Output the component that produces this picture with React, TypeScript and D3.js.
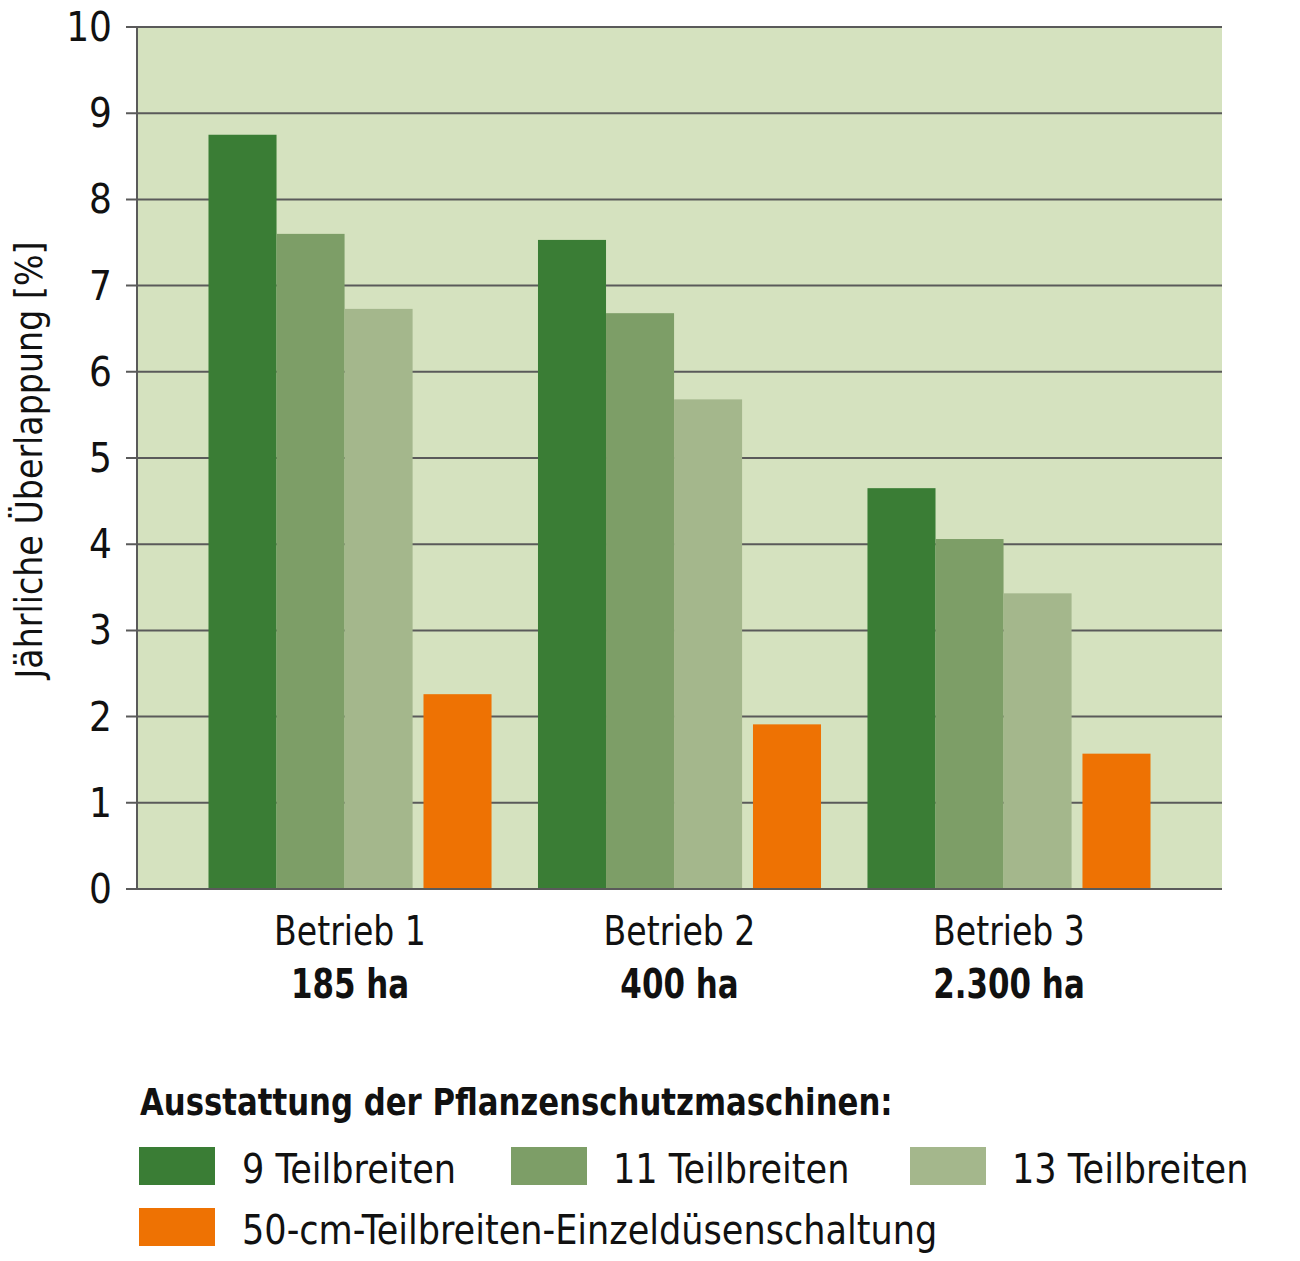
import React from "react";
import * as d3 from "d3";

const groups = ["Betrieb 1", "Betrieb 2", "Betrieb 3"];
const groupAreas = ["185 ha", "400 ha", "2.300 ha"];
const seriesNames = [
  "9 Teilbreiten",
  "11 Teilbreiten",
  "13 Teilbreiten",
  "50-cm-Teilbreiten-Einzeldüsenschaltung",
];
const values9 = [8.75, 7.53, 4.65];
const values11 = [7.6, 6.68, 4.06];
const values13 = [6.73, 5.68, 3.43];
const values50 = [2.26, 1.91, 1.57];
const yTicks = [0, 1, 2, 3, 4, 5, 6, 7, 8, 9, 10];
const colors = ["#3a7d35", "#7d9e67", "#a4b78c", "#ee7203"];

const W = 1300;
const H = 1261;
const FONT = "'Liberation Sans Narrow', 'DejaVu Sans Condensed', 'Roboto', sans-serif";

function T({ x, y, sx = 1, anchor = "start", size = 40, bold = false, children }: any) {
  return (
    <text
      transform={`translate(${x},${y}) scale(${sx},1)`}
      textAnchor={anchor}
      fontSize={size}
      fontWeight={bold ? "bold" : "normal"}
      fill="#111"
    >
      {children}
    </text>
  );
}

export default function App() {
  const left = 137, right = 1222, top = 27, bottom = 889;
  const y = d3.scaleLinear().domain([0, 10]).range([bottom, top]);
  const x0 = d3.scaleBand<string>().domain(groups).range([left, right]).paddingInner(0.141).paddingOuter(0.217);
  const bw = x0.bandwidth();
  const slots = [0, 1, 2, 3.16];
  const barW = bw / 4.16;
  const all = [values9, values11, values13, values50];

  const legendItems = [
    { x: 139, y: 1147, tx: 242 },
    { x: 511, y: 1147, tx: 613 },
    { x: 910, y: 1147, tx: 1012 },
    { x: 139, y: 1208, tx: 242 },
  ];

  return (
    <svg width={W} height={H} style={{ display: "block", position: "absolute", left: 0, top: 0 }} fontFamily={FONT}>
      <rect x={0} y={0} width={W} height={H} fill="#fff" />
      <rect x={left} y={top} width={right - left} height={bottom - top} fill="#d5e2bf" />
      {yTicks.map((t) => (
        <g key={t}>
          <line x1={left - 11} x2={right} y1={y(t)} y2={y(t)} stroke="#5a5a5a" strokeWidth={2} />
          <text x={112} y={y(t)} dy="0.35em" textAnchor="end" fontSize={40} fill="#111">
            {t}
          </text>
        </g>
      ))}
      <line x1={left} x2={left} y1={top} y2={bottom} stroke="#5a5a5a" strokeWidth={2} />
      {groups.map((g, gi) =>
        all.map((vals, si) => (
          <rect
            key={g + si}
            x={(x0(g) as number) + slots[si] * barW}
            y={y(vals[gi])}
            width={barW}
            height={y(0) - y(vals[gi])}
            fill={colors[si]}
          />
        ))
      )}
      <line x1={left} x2={right} y1={bottom} y2={bottom} stroke="#5a5a5a" strokeWidth={2} />
      {groups.map((g, gi) => (
        <g key={g}>
          <T x={(x0(g) as number) + bw / 2} y={945} anchor="middle" sx={0.92}>
            {g}
          </T>
          <T x={(x0(g) as number) + bw / 2} y={998} anchor="middle" bold sx={0.86}>
            {groupAreas[gi]}
          </T>
        </g>
      ))}
      <text
        transform={`translate(42, ${(top + bottom) / 2 + 2}) rotate(-90)`}
        textAnchor="middle"
        fontSize={37}
        fill="#111"
      >
        Jährliche Überlappung [%]
      </text>
      <T x={140} y={1115} size={38} bold sx={0.9}>
        Ausstattung der Pflanzenschutzmaschinen:
      </T>
      {seriesNames.map((s, i) => (
        <g key={s}>
          <rect x={legendItems[i].x} y={legendItems[i].y} width={76} height={38} fill={colors[i]} />
          <T x={legendItems[i].tx} y={legendItems[i].y + 36} sx={0.975}>
            {s}
          </T>
        </g>
      ))}
    </svg>
  );
}
